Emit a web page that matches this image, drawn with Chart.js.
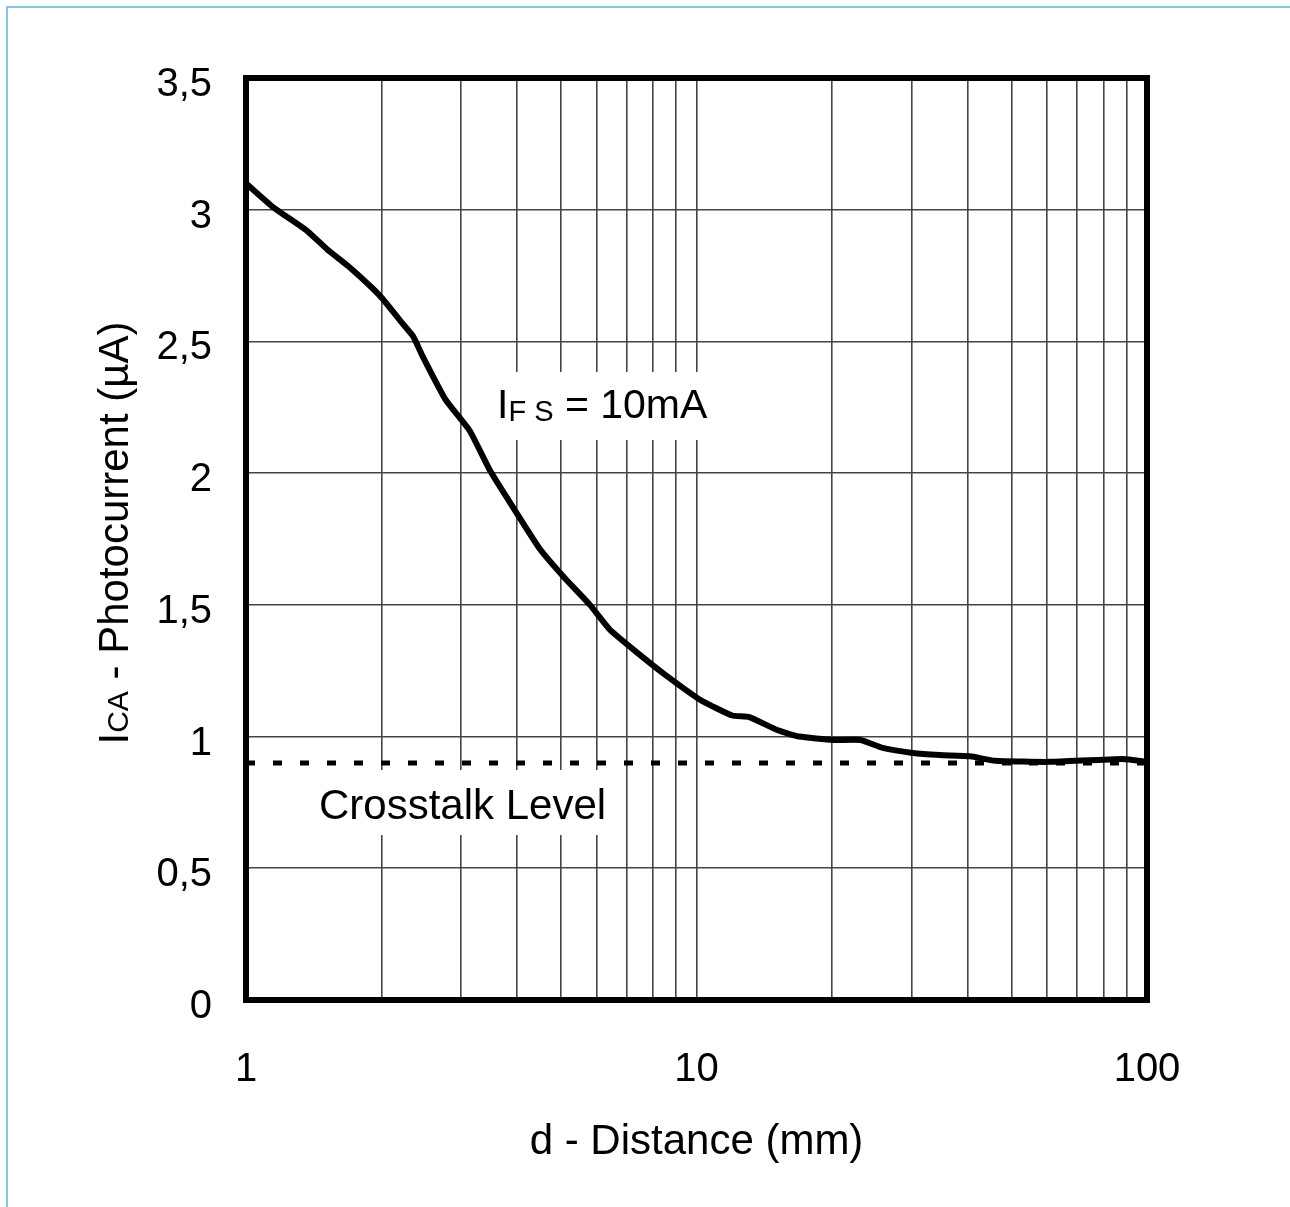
<!DOCTYPE html>
<html><head><meta charset="utf-8">
<script src="https://cdn.jsdelivr.net/npm/chart.js@4.4.1/dist/chart.umd.min.js"></script>
<style>html,body{margin:0;padding:0;background:#fff;overflow:hidden}#wrap{position:relative;width:1290px;height:1207px}</style>
</head><body><div id="wrap"><canvas id="c" width="1290" height="1207"></canvas></div>
<script>
const distanceMm = [1, 1.148, 1.366, 1.513, 1.702, 1.914, 2.014, 2.196, 2.348, 2.472, 2.77, 3.14, 3.48, 3.95, 4.5, 5.11, 5.8, 6.43, 7.49, 8.51, 10.18, 12.0, 13.1, 15.1, 16.9, 20.1, 23.1, 25.9, 30.2, 34.7, 40.5, 46.0, 60.9, 88.4, 100];
const photocurrentUA = [3.10, 3.01, 2.92, 2.85, 2.78, 2.70, 2.66, 2.58, 2.52, 2.44, 2.28, 2.16, 2.01, 1.86, 1.71, 1.60, 1.50, 1.405, 1.31, 1.235, 1.14, 1.08, 1.074, 1.025, 1.0, 0.987, 0.987, 0.957, 0.938, 0.93, 0.925, 0.908, 0.904, 0.915, 0.904];
const crosstalkX = [1, 100];
const crosstalkY = [0.9, 0.9];
const xTickValues = [1,2,3,4,5,6,7,8,9,10,20,30,40,50,60,70,80,90,100];
const xTickLabels = ['1','','','','','','','','','10','','','','','','','','','100'];
const yTickValues = [0,0.5,1,1.5,2,2.5,3,3.5];
const yTickLabels = ['0','0,5','1','1,5','2','2,5','3','3,5'];

const FONT = "'Liberation Sans', Arial, sans-serif";

function drawRich(ctx, segs, x, y, centered) {
  let total = 0;
  segs.forEach(s => { ctx.font = s.size + 'px ' + FONT; total += ctx.measureText(s.text).width; });
  let cx = centered ? x - total / 2 : x;
  segs.forEach(s => {
    ctx.font = s.size + 'px ' + FONT;
    ctx.fillText(s.text, cx, y + (s.dy || 0));
    cx += ctx.measureText(s.text).width;
  });
  return total;
}

const decor = {
  id: 'decor',
  beforeDraw(chart) {
    const ctx = chart.ctx;
    ctx.save();
    ctx.fillStyle = '#fff';
    ctx.fillRect(0, 0, chart.width, chart.height);
    ctx.strokeStyle = '#86c5e3';
    ctx.lineWidth = 2;
    ctx.beginPath();
    ctx.moveTo(7, chart.height); ctx.lineTo(7, 7); ctx.lineTo(chart.width, 7);
    ctx.stroke();
    ctx.restore();
  },
  beforeDatasetsDraw(chart) {
    const ctx = chart.ctx;
    ctx.save();
    ctx.fillStyle = '#fff';
    ctx.fillRect(485, 372, 228, 68);
    ctx.fillRect(305, 770, 315, 65);
    ctx.fillStyle = '#000';
    ctx.textBaseline = 'alphabetic';
    drawRich(ctx, [{text:'I', size:41}, {text:'F S', size:29, dy:3}, {text:' = 10mA', size:41}], 497, 418, false);
    drawRich(ctx, [{text:'Crosstalk Level', size:42}], 319, 819, false);
    // y axis title
    ctx.translate(128, 533);
    ctx.rotate(-Math.PI / 2);
    drawRich(ctx, [{text:'I', size:42}, {text:'CA', size:30}, {text:' - Photocurrent (µA)', size:42}], 0, 0, true);
    ctx.restore();
  },
  afterDatasetsDraw(chart) {
    const {left, top, right, bottom} = chart.chartArea;
    const ctx = chart.ctx;
    ctx.save();
    ctx.strokeStyle = '#000';
    ctx.lineWidth = 6;
    ctx.lineJoin = 'miter';
    ctx.strokeRect(left, top, right - left, bottom - top);
    ctx.restore();
  }
};

new Chart(document.getElementById('c'), {
  type: 'line',
  data: {
    datasets: [
      {
        label: 'IFS = 10mA',
        data: distanceMm.map((d, i) => ({x: d, y: photocurrentUA[i]})),
        borderColor: '#000', borderWidth: 6, pointRadius: 0, tension: 0.15, fill: false
      },
      {
        label: 'Crosstalk Level',
        data: crosstalkX.map((d, i) => ({x: d, y: crosstalkY[i]})),
        borderColor: '#000', borderWidth: 5, borderDash: [9, 18], pointRadius: 0, fill: false
      }
    ]
  },
  options: {
    responsive: false,
    animation: false,
    devicePixelRatio: 1,
    layout: { padding: { top: 78, right: 143, left: 0, bottom: 0 } },
    plugins: { legend: { display: false }, tooltip: { enabled: false } },
    scales: {
      x: {
        type: 'logarithmic', min: 1, max: 100,
        afterBuildTicks: s => { s.ticks = xTickValues.map(v => ({value: v})); },
        afterFit: s => { s.height = 207; },
        grid: { color: '#444', lineWidth: 1.6, drawTicks: false },
        border: { display: false },
        ticks: { autoSkip: false, maxRotation: 0, padding: 46, color: '#000',
          font: { family: FONT, size: 40 },
          callback: (v, i) => xTickLabels[i] },
        title: { display: true, text: 'd - Distance (mm)', color: '#000',
          font: { family: FONT, size: 42 }, padding: { top: 0, bottom: 39 } }
      },
      y: {
        type: 'linear', min: 0, max: 3.5,
        afterBuildTicks: s => { s.ticks = yTickValues.map(v => ({value: v})); },
        afterFit: s => { s.width = 246; },
        grid: { color: '#444', lineWidth: 1.6, drawTicks: false },
        border: { display: false },
        ticks: { autoSkip: false, padding: 34, labelOffset: 7, color: '#000',
          font: { family: FONT, size: 40 },
          callback: (v, i) => yTickLabels[i] }
      }
    }
  },
  plugins: [decor]
});
</script>
</body></html>
